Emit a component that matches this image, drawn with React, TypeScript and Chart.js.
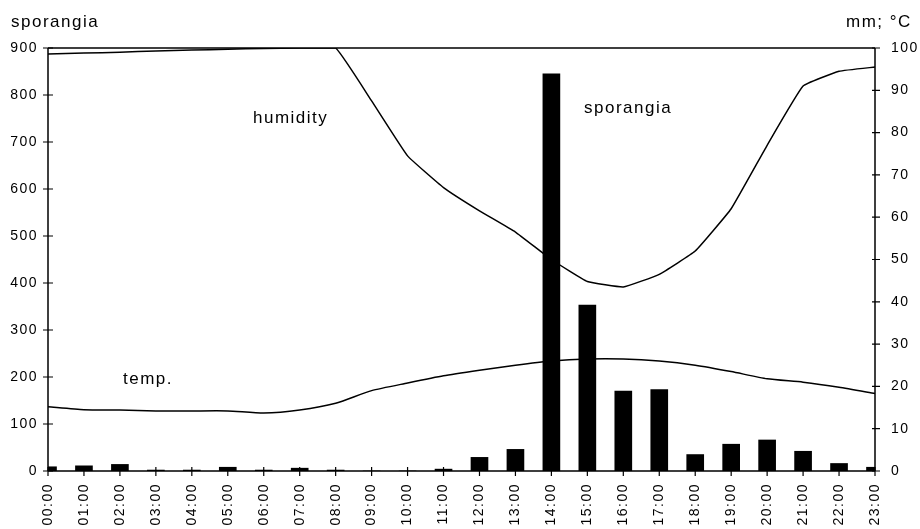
import React, { useEffect, useRef } from "react";
import { Chart, registerables } from "chart.js";

Chart.register(...registerables);

const hours = [
  "00:00", "01:00", "02:00", "03:00", "04:00", "05:00", "06:00", "07:00",
  "08:00", "09:00", "10:00", "11:00", "12:00", "13:00", "14:00", "15:00",
  "16:00", "17:00", "18:00", "19:00", "20:00", "21:00", "22:00", "23:00",
];

const sporangia = [9, 11, 14, 2, 2, 8, 2, 6, 2, 0, 0, 4, 29, 46, 845, 353, 170, 173, 35, 57, 66, 42, 16, 8];

const humidity = [98.6, 98.8, 99.0, 99.3, 99.5, 99.7, 99.9, 100, 100, 87.5, 74.5, 67, 61.5, 56.5, 50, 44.8, 43.5, 46.5, 52, 62, 77, 91, 94.5, 95.5];

const temperature = [15.2, 14.5, 14.4, 14.2, 14.2, 14.2, 13.7, 14.4, 16, 19, 20.8, 22.5, 23.8, 25, 26, 26.5, 26.5, 26, 25, 23.5, 21.8, 21, 19.8, 18.3];

const leftTicks = [0, 100, 200, 300, 400, 500, 600, 700, 800, 900];
const rightTicks = [0, 10, 20, 30, 40, 50, 60, 70, 80, 90, 100];

const FONT = "'Liberation Sans', Arial, Helvetica, sans-serif";

const framePlugin = {
  id: "frame",
  beforeDraw(chart: any) {
    (chart.ctx as any).letterSpacing = "1.5px";
  },
  afterDraw(chart: any) {
    const ctx = chart.ctx as CanvasRenderingContext2D;
    const { left, right, top, bottom } = chart.chartArea;
    ctx.save();
    ctx.strokeStyle = "#000";
    ctx.lineWidth = 1.5;
    ctx.beginPath();
    ctx.moveTo(left, top);
    ctx.lineTo(right, top);
    ctx.moveTo(left, top);
    ctx.lineTo(left, bottom);
    ctx.moveTo(right, top);
    ctx.lineTo(right, bottom);
    ctx.moveTo(left, bottom);
    ctx.lineTo(right, bottom);
    ctx.stroke();
    ctx.lineWidth = 1.2;
    ctx.beginPath();
    const yL = chart.scales.y;
    leftTicks.forEach((v) => {
      const y = yL.getPixelForValue(v);
      ctx.moveTo(left - 5, y);
      ctx.lineTo(left + 5, y);
    });
    const yR = chart.scales.y2;
    rightTicks.forEach((v) => {
      const y = yR.getPixelForValue(v);
      ctx.moveTo(right - 3, y);
      ctx.lineTo(right + 5, y);
    });
    const xs = chart.scales.x;
    hours.forEach((_, i) => {
      const x = xs.getPixelForValue(i);
      ctx.moveTo(x, bottom - 4);
      ctx.lineTo(x, bottom + 5);
    });
    ctx.stroke();

    ctx.fillStyle = "#000";
    (ctx as any).letterSpacing = "1.5px";
    ctx.textBaseline = "alphabetic";
    ctx.textAlign = "left";
    ctx.font = `17px ${FONT}`;
    ctx.fillText("sporangia", 11, 27);
    ctx.fillText("mm; °C", 846, 27);
    ctx.fillText("humidity", 253, 123);
    ctx.fillText("sporangia", 584, 113);
    ctx.fillText("temp.", 123, 384);
    ctx.restore();
  },
};

export default function App() {
  const ref = useRef<HTMLCanvasElement | null>(null);
  useEffect(() => {
    document.body.style.margin = "0";
    const canvas = ref.current;
    if (!canvas) return;
    const chart = new Chart(canvas, {
      type: "bar",
      data: {
        labels: hours,
        datasets: [
          {
            type: "bar",
            label: "sporangia",
            data: sporangia,
            yAxisID: "y",
            backgroundColor: "#000",
            borderWidth: 0,
            barThickness: 17,
            order: 1,
          } as any,
          {
            type: "line",
            label: "humidity",
            data: humidity,
            yAxisID: "y2",
            borderColor: "#000",
            borderWidth: 1.5,
            pointRadius: 0,
            tension: 0.1,
            fill: false,
            order: 2,
          } as any,
          {
            type: "line",
            label: "temp.",
            data: temperature,
            yAxisID: "y2",
            borderColor: "#000",
            borderWidth: 1.5,
            pointRadius: 0,
            tension: 0.2,
            fill: false,
            order: 3,
          } as any,
        ],
      },
      options: {
        animation: false,
        responsive: false,
        layout: { padding: { top: 48, left: 0, right: 0, bottom: 0 } },
        plugins: {
          legend: { display: false },
          tooltip: { enabled: false },
          title: { display: false },
        },
        scales: {
          x: {
            offset: false,
            grid: { display: false, tickLength: 8 },
            border: { display: false },
            ticks: {
              color: "#000",
              font: { family: FONT, size: 14 },
              minRotation: 90,
              maxRotation: 90,
              autoSkip: false,
              padding: 4,
            },
            afterFit(scale: any) {
              scale.height = 58;
            },
          },
          y: {
            position: "left",
            min: 0,
            max: 900,
            grid: { display: false, tickLength: 8 },
            border: { display: false },
            ticks: {
              stepSize: 100,
              color: "#000",
              font: { family: FONT, size: 14 },
              padding: 2,
            },
            afterFit(scale: any) {
              scale.width = 48;
            },
          },
          y2: {
            position: "right",
            min: 0,
            max: 100,
            grid: { display: false, tickLength: 8 },
            border: { display: false },
            ticks: {
              stepSize: 10,
              color: "#000",
              font: { family: FONT, size: 14 },
              padding: 8,
            },
            afterFit(scale: any) {
              scale.width = 45;
            },
          },
        },
      } as any,
      plugins: [framePlugin],
    });
    return () => chart.destroy();
  }, []);
  return (
    <div style={{ width: 920, height: 529, background: "#fff" }}>
      <canvas ref={ref} width={920} height={529} style={{ display: "block" }} />
    </div>
  );
}
